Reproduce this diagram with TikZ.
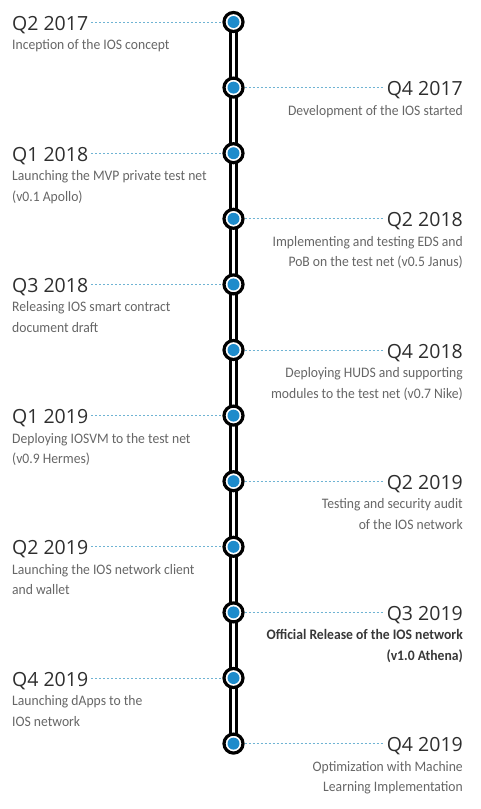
\documentclass[tikz,border=0pt]{standalone}
\usepackage{fontspec}
\newfontfamily\titlefont{Open Sans}
\newfontfamily\descfont[FakeStretch=0.94]{Carlito}
\definecolor{titlegray}{HTML}{2E2E2E}
\definecolor{descgray}{HTML}{666666}
\definecolor{dotblue}{HTML}{1E8BCB}
\definecolor{dashblue}{HTML}{6FB3D3}
\tikzset{
  milestone/.style={circle, draw=black, line width=3.2pt, fill=white, minimum size=19pt, inner sep=0pt,
    path picture={\fill[dotblue] (path picture bounding box.center) circle (6pt);}},
  ttl/.style={inner sep=0pt, text=titlegray, font=\titlefont\fontsize{19.5}{22}\selectfont},
  dsc/.style={inner sep=0pt, text=descgray, font=\descfont\fontsize{14.5}{18}\selectfont},
  leader/.style={dashblue, line width=1pt, dash pattern=on 2pt off 2pt}
}
\begin{document}
\begin{tikzpicture}[x=1pt,y=-1pt]
\path[use as bounding box] (0,0) rectangle (480,809);
\coordinate (L) at (12,0);
\coordinate (R) at (463,0);
% milestone positions
\foreach \i in {1,...,12}{
  \coordinate (p\i) at (233.5,{22+65.6*(\i-1)});
}
% rail
\draw[line width=9pt, black] (p1) -- (p12);
\draw[line width=3.5pt, white] (p1) -- (p12);
\foreach \i in {1,...,12}{
  \node[milestone] (m\i) at (p\i) {};
}
% left entries
\foreach \i/\t/\a/\b in {
  1/Q2 2017/Inception of the IOS concept/,
  3/Q1 2018/Launching the MVP private test net/(v0.1 Apollo),
  5/Q3 2018/Releasing IOS smart contract/document draft,
  7/Q1 2019/Deploying IOSVM to the test net/(v0.9 Hermes),
  9/Q2 2019/Launching the IOS network client/and wallet,
  11/Q4 2019/Launching dApps to the/IOS network}{
  \node[ttl, anchor=base west] (t\i) at ([yshift=-8pt]p\i -| L) {\t};
  \node[dsc, anchor=base west] (da\i) at ([yshift=-27.5pt]p\i -| L) {\a};
  \node[dsc, anchor=base west] (db\i) at ([yshift=-48pt]p\i -| L) {\b};
  \draw[leader] ([xshift=3pt]t\i.east |- m\i.center) -- (m\i.west);
}
% right entries
\foreach \i/\t/\a/\b in {
  2/Q4 2017/Development of the IOS started/,
  4/Q2 2018/Implementing and testing EDS and/PoB on the test net (v0.5 Janus),
  6/Q4 2018/Deploying HUDS and supporting/modules to the test net (v0.7 Nike),
  8/Q2 2019/Testing and security audit/of the IOS network,
  10/Q3 2019/{\bfseries\color{black!78}Official Release of the IOS network}/{\bfseries\color{black!78}(v1.0 Athena)},
  12/Q4 2019/Optimization with Machine/Learning Implementation}{
  \node[ttl, anchor=base east] (t\i) at ([yshift=-8pt]p\i -| R) {\t};
  \node[dsc, anchor=base east] (da\i) at ([yshift=-27.5pt]p\i -| R) {\a};
  \node[dsc, anchor=base east] (db\i) at ([yshift=-48pt]p\i -| R) {\b};
  \draw[leader] (m\i.east) -- ([xshift=-3pt]t\i.west |- m\i.center);
}
\end{tikzpicture}
\end{document}
